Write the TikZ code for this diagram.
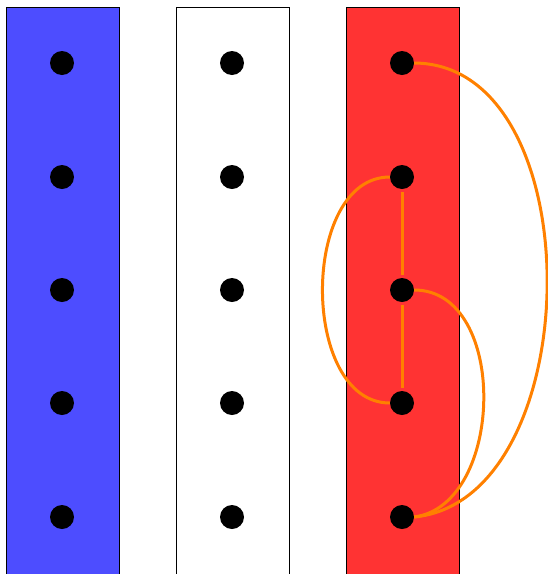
\documentclass[tikz,border=0pt]{standalone}
\definecolor{bandblue}{HTML}{4D4DFF}
\definecolor{bandred}{HTML}{FF3333}
\definecolor{linkorange}{HTML}{FF8000}
\tikzset{
  band/.style={draw=black, line width=1pt},
  dot/.style={circle, fill=black, minimum size=24pt, inner sep=0pt},
  link/.style={draw=linkorange, line width=3pt}
}
\begin{document}
\begin{tikzpicture}[x=1pt,y=-1pt]
\useasboundingbox (0,0) rectangle (548,574);
\clip (0,0) rectangle (548,574);
\path[band, fill=bandblue] (6,7) rectangle (119,580);
\path[band, fill=white] (176,7) rectangle (289,580);
\path[band, fill=bandred] (346,7) rectangle (459,580);
\foreach \c/\x in {a/62,b/232,c/402}{
  \foreach \r/\y in {1/63,2/177,3/290,4/403,5/517}{
    \node[dot] (\c\r) at (\x,\y) {};
  }
}
\draw[link] (c1.east) .. controls (594,64) and (589,500) .. (c5.east);
\draw[link] (c2.west) .. controls (300,177) and (300,403) .. (c4.west);
\draw[link] (c3.east) .. controls (509,290) and (505,505) .. (c5.east);
\draw[link, shorten <=3pt, shorten >=3pt] (c2) -- (c3);
\draw[link, shorten <=3pt, shorten >=3pt] (c3) -- (c4);
\end{tikzpicture}
\end{document}
